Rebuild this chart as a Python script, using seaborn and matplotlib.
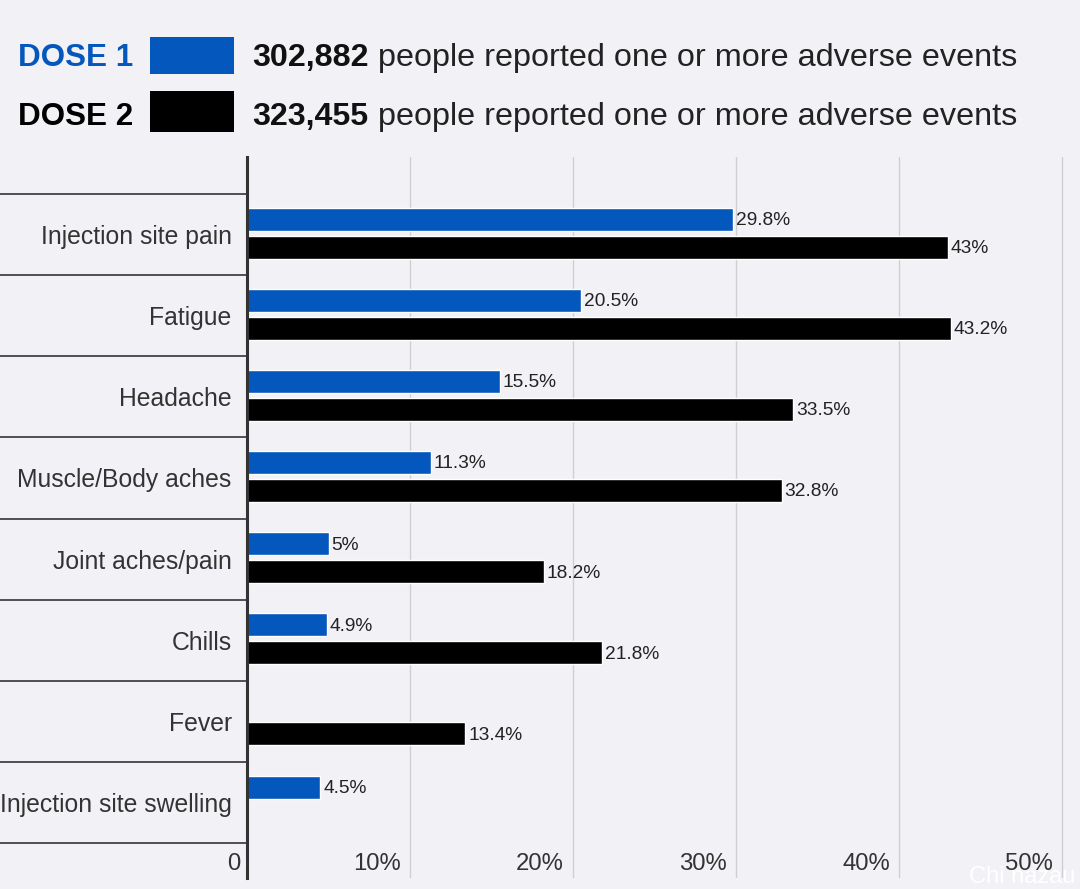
import matplotlib
matplotlib.use('Agg')
import matplotlib.pyplot as plt
from matplotlib.patches import Rectangle
import numpy as np
import pandas as pd
import seaborn as sns

symptoms = ['Injection site pain', 'Fatigue', 'Headache', 'Muscle/Body aches',
            'Joint aches/pain', 'Chills', 'Fever', 'Injection site swelling']
dose_1 = [29.8, 20.5, 15.5, 11.3, 5, 4.9, np.nan, 4.5]
dose_2 = [43, 43.2, 33.5, 32.8, 18.2, 21.8, 13.4, np.nan]
dose_names = ['DOSE 1', 'DOSE 2']
dose_counts = ['302,882', '323,455']
x_ticks = [10, 20, 30, 40, 50]

BG = '#f2f2f6'
BLUE = '#0457bd'
W, H = 1080, 889

sns.set_theme(style='white')
plt.rcParams['font.family'] = ['Liberation Sans', 'DejaVu Sans']

df = pd.DataFrame({'symptom': symptoms * 2,
                   'dose': ['DOSE 1'] * 8 + ['DOSE 2'] * 8,
                   'value': dose_1 + dose_2})

fig = plt.figure(figsize=(W / 100, H / 100), dpi=100, facecolor=BG)
ax = fig.add_axes([247 / W, 1 - 878 / H, (W - 247) / W, (878 - 157) / H], facecolor=BG)

sns.barplot(data=df, y='symptom', x='value', hue='dose', order=symptoms,
            palette=[BLUE, 'black'], width=0.69, gap=0.18, legend=False,
            saturation=1, ax=ax)

ax.set_xlim(0, (W - 247) / 16.3)
ax.set_ylim(7.93, -0.956)
ax.set_xlabel('')
ax.set_ylabel('')
sns.despine(ax=ax, top=True, right=True, bottom=True)
ax.spines['left'].set_linewidth(2.2)
ax.spines['left'].set_color('#333333')

# gridlines behind the bars
ax.set_axisbelow(True)
ax.set_xticks(x_ticks)
ax.set_xticklabels([])
ax.grid(axis='x', color='#cfcfd2', lw=1.0)
ax.tick_params(axis='x', length=0)

# long minor ticks are the row separators
ax.set_yticks(np.arange(len(symptoms) + 1) - 0.5, minor=True)
ax.tick_params(axis='y', which='minor', length=247 * 0.72, width=1.3, color='#444444', left=True)
ax.tick_params(axis='y', which='major', length=0, pad=11, labelsize=17.8, labelcolor='#333333')

for cont in ax.containers:
    ax.bar_label(cont, fmt=lambda v: f'{v:g}%', padding=2, fontsize=13.8, color='#222222')
    # bars sit a little above the row centre, labels stay put
    for bar in cont:
        bar.set_y(bar.get_y() - 0.018)

for t in [0] + x_ticks:
    label = '0' if t == 0 else f'{t}%'
    ax.annotate(label, (t, 0.02), xycoords=ax.get_xaxis_transform(),
                xytext=(-7 if t == 0 else -9, 0), textcoords='offset pixels',
                ha='right', va='center', fontsize=17.2, color='#333333')

# header acting as the legend
rows = [(58, 37, 37, BLUE), (117, 91, 41, 'black')]
for name, count, (yc, top, h, col) in zip(dose_names, dose_counts, rows):
    fig.text(18 / W, 1 - yc / H, name, color=col, fontsize=22.6, fontweight='bold', va='center')
    fig.add_artist(Rectangle((150 / W, 1 - (top + h) / H), 84 / W, h / H,
                             transform=fig.transFigure, color=col, lw=0))
    fig.text(252 / W, 1 - yc / H, count, color='#111111', fontsize=23.2, fontweight='bold', va='center')
    fig.text(378 / W, 1 - yc / H, 'people reported one or more adverse events',
             color='#222222', fontsize=23.35, va='center')

# watermark
fig.text(1075 / W, 1 - 877 / H, 'Chi nazau', color='white', fontsize=17, ha='right', va='center')

fig.savefig('out.png', dpi=100, facecolor=BG)
